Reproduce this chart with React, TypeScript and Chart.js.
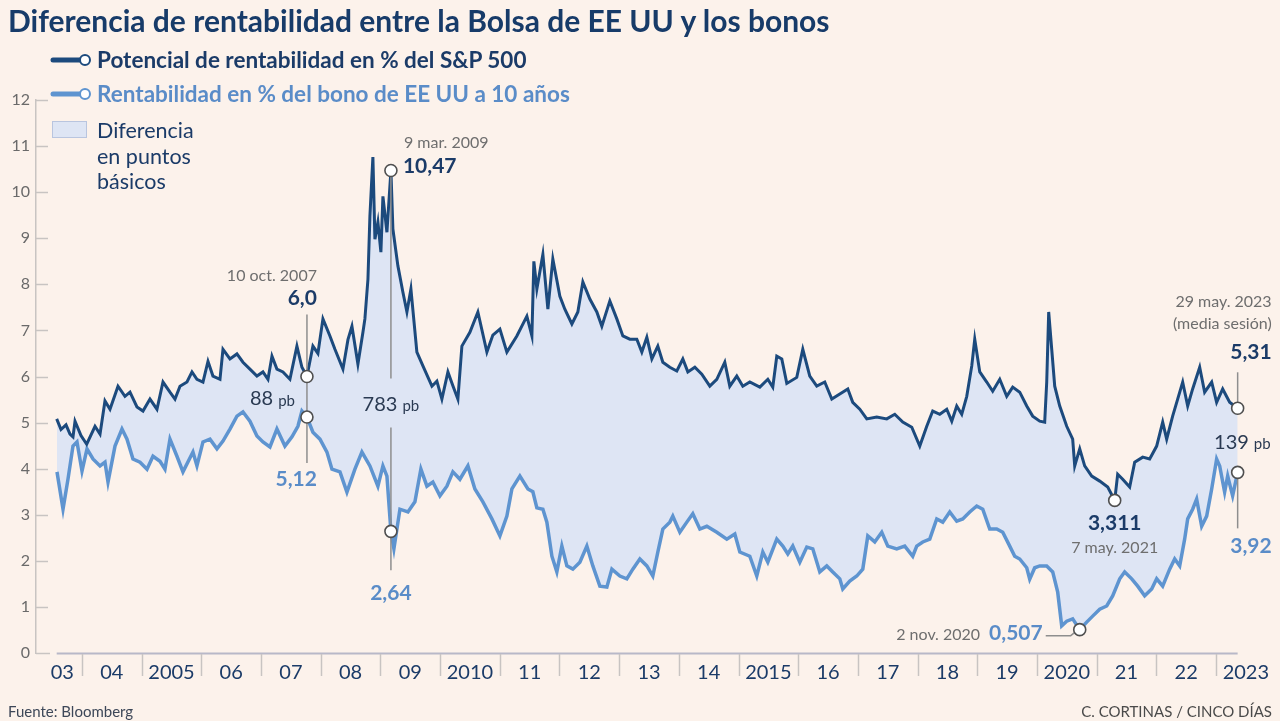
import React, { useEffect, useRef } from "react";
import { Chart, registerables } from "chart.js";
Chart.register(...registerables);

// ---------- DATA ----------
const spDates = [2003.576, 2003.648, 2003.732, 2003.799, 2003.849, 2003.883, 2003.983, 2004.079, 2004.218, 2004.302, 2004.385, 2004.469, 2004.603, 2004.720, 2004.804, 2004.921, 2005.022, 2005.139, 2005.256, 2005.357, 2005.474, 2005.558, 2005.642, 2005.759, 2005.843, 2005.926, 2006.027, 2006.111, 2006.194, 2006.312, 2006.362, 2006.479, 2006.596, 2006.697, 2006.814, 2006.931, 2007.032, 2007.116, 2007.183, 2007.266, 2007.367, 2007.484, 2007.601, 2007.685, 2007.769, 2007.869, 2007.953, 2008.037, 2008.154, 2008.238, 2008.372, 2008.456, 2008.523, 2008.623, 2008.707, 2008.740, 2008.791, 2008.824, 2008.874, 2008.908, 2008.958, 2009.008, 2009.042, 2009.109, 2009.176, 2009.209, 2009.293, 2009.377, 2009.444, 2009.511, 2009.611, 2009.712, 2009.863, 2009.946, 2010.030, 2010.131, 2010.214, 2010.298, 2010.365, 2010.499, 2010.633, 2010.784, 2010.884, 2011.002, 2011.119, 2011.286, 2011.454, 2011.538, 2011.571, 2011.621, 2011.722, 2011.806, 2011.889, 2012.007, 2012.090, 2012.208, 2012.308, 2012.392, 2012.509, 2012.626, 2012.710, 2012.844, 2012.961, 2013.062, 2013.179, 2013.296, 2013.380, 2013.464, 2013.548, 2013.648, 2013.732, 2013.849, 2013.966, 2014.067, 2014.151, 2014.268, 2014.385, 2014.519, 2014.636, 2014.770, 2014.854, 2014.971, 2015.072, 2015.189, 2015.357, 2015.491, 2015.574, 2015.641, 2015.725, 2015.809, 2015.976, 2016.077, 2016.194, 2016.311, 2016.445, 2016.563, 2016.697, 2016.831, 2016.914, 2017.032, 2017.149, 2017.316, 2017.484, 2017.618, 2017.752, 2017.903, 2018.037, 2018.154, 2018.254, 2018.372, 2018.489, 2018.573, 2018.656, 2018.740, 2018.824, 2018.908, 2018.958, 2019.042, 2019.159, 2019.259, 2019.377, 2019.494, 2019.594, 2019.712, 2019.829, 2019.929, 2020.047, 2020.130, 2020.164, 2020.197, 2020.248, 2020.298, 2020.382, 2020.499, 2020.599, 2020.633, 2020.717, 2020.800, 2020.918, 2021.052, 2021.186, 2021.303, 2021.353, 2021.437, 2021.554, 2021.638, 2021.772, 2021.889, 2022.006, 2022.107, 2022.174, 2022.274, 2022.358, 2022.442, 2022.526, 2022.609, 2022.727, 2022.810, 2022.928, 2023.011, 2023.112, 2023.229, 2023.363];
const spValues = [5.08, 4.85, 4.95, 4.75, 4.69, 5.03, 4.72, 4.53, 4.92, 4.75, 5.47, 5.29, 5.79, 5.57, 5.66, 5.34, 5.25, 5.51, 5.29, 5.88, 5.66, 5.51, 5.79, 5.88, 6.10, 5.94, 5.88, 6.33, 6.01, 5.94, 6.59, 6.38, 6.49, 6.31, 6.16, 6.01, 6.10, 5.94, 6.44, 6.16, 6.10, 5.94, 6.66, 6.20, 6.00, 6.66, 6.50, 7.25, 6.88, 6.59, 6.16, 6.80, 7.09, 6.27, 6.96, 7.25, 8.11, 9.48, 10.76, 8.98, 9.35, 8.70, 9.91, 9.13, 10.47, 9.20, 8.40, 7.83, 7.40, 7.90, 6.53, 6.23, 5.79, 5.90, 5.51, 6.10, 5.80, 5.51, 6.66, 6.96, 7.40, 6.53, 6.90, 7.03, 6.53, 6.88, 7.31, 6.88, 8.50, 7.90, 8.65, 7.46, 8.55, 7.74, 7.46, 7.14, 7.40, 8.05, 7.68, 7.40, 7.09, 7.64, 7.25, 6.88, 6.81, 6.81, 6.53, 6.85, 6.38, 6.66, 6.31, 6.20, 6.12, 6.38, 6.10, 6.20, 6.05, 5.79, 5.94, 6.31, 5.79, 6.01, 5.79, 5.88, 5.77, 5.94, 5.77, 6.44, 6.38, 5.85, 5.98, 6.59, 6.01, 5.79, 5.88, 5.51, 5.62, 5.73, 5.44, 5.29, 5.08, 5.12, 5.08, 5.18, 5.01, 4.90, 4.49, 4.92, 5.25, 5.18, 5.29, 5.03, 5.36, 5.18, 5.57, 6.23, 6.81, 6.10, 5.88, 5.68, 5.94, 5.57, 5.77, 5.66, 5.36, 5.14, 5.03, 5.01, 5.88, 7.40, 6.59, 5.79, 5.36, 4.92, 4.64, 4.06, 4.43, 4.06, 3.84, 3.73, 3.60, 3.311, 3.88, 3.77, 3.60, 4.14, 4.25, 4.21, 4.49, 5.01, 4.64, 5.14, 5.51, 5.88, 5.36, 5.73, 6.20, 5.66, 5.88, 5.44, 5.73, 5.44, 5.31];

const bondDates = [2003.581, 2003.682, 2003.765, 2003.849, 2003.916, 2004.000, 2004.084, 2004.184, 2004.302, 2004.385, 2004.436, 2004.553, 2004.670, 2004.754, 2004.854, 2004.972, 2005.089, 2005.189, 2005.307, 2005.390, 2005.474, 2005.591, 2005.692, 2005.859, 2005.926, 2006.027, 2006.144, 2006.261, 2006.362, 2006.479, 2006.596, 2006.697, 2006.814, 2006.931, 2007.032, 2007.149, 2007.266, 2007.400, 2007.518, 2007.618, 2007.685, 2007.769, 2007.869, 2007.987, 2008.104, 2008.188, 2008.322, 2008.439, 2008.573, 2008.690, 2008.824, 2008.958, 2009.042, 2009.109, 2009.176, 2009.226, 2009.327, 2009.461, 2009.578, 2009.678, 2009.779, 2009.879, 2009.997, 2010.114, 2010.214, 2010.332, 2010.466, 2010.583, 2010.717, 2010.868, 2011.002, 2011.119, 2011.203, 2011.337, 2011.471, 2011.554, 2011.621, 2011.722, 2011.789, 2011.873, 2011.956, 2012.040, 2012.124, 2012.224, 2012.342, 2012.459, 2012.559, 2012.677, 2012.794, 2012.878, 2013.012, 2013.129, 2013.229, 2013.347, 2013.464, 2013.564, 2013.648, 2013.732, 2013.849, 2013.899, 2014.017, 2014.134, 2014.234, 2014.352, 2014.469, 2014.636, 2014.804, 2014.938, 2015.022, 2015.189, 2015.306, 2015.407, 2015.491, 2015.641, 2015.742, 2015.826, 2015.909, 2016.027, 2016.144, 2016.244, 2016.362, 2016.479, 2016.579, 2016.697, 2016.747, 2016.864, 2016.981, 2017.082, 2017.166, 2017.283, 2017.400, 2017.501, 2017.651, 2017.785, 2017.919, 2017.986, 2018.087, 2018.204, 2018.321, 2018.422, 2018.539, 2018.656, 2018.757, 2018.874, 2018.991, 2019.092, 2019.209, 2019.326, 2019.427, 2019.544, 2019.628, 2019.712, 2019.829, 2019.879, 2019.963, 2020.047, 2020.164, 2020.264, 2020.348, 2020.415, 2020.499, 2020.599, 2020.717, 2020.834, 2020.934, 2021.052, 2021.169, 2021.269, 2021.387, 2021.470, 2021.588, 2021.688, 2021.805, 2021.923, 2022.006, 2022.107, 2022.224, 2022.308, 2022.392, 2022.475, 2022.526, 2022.609, 2022.676, 2022.760, 2022.844, 2022.928, 2023.011, 2023.062, 2023.145, 2023.196, 2023.279, 2023.363];
const bondValues = [3.93, 3.12, 3.77, 4.49, 4.58, 3.95, 4.43, 4.21, 4.06, 4.14, 3.71, 4.49, 4.86, 4.64, 4.21, 4.14, 3.99, 4.27, 4.16, 3.99, 4.64, 4.27, 3.93, 4.36, 4.06, 4.58, 4.64, 4.43, 4.60, 4.86, 5.14, 5.23, 5.03, 4.71, 4.58, 4.47, 4.86, 4.49, 4.69, 4.92, 5.25, 5.12, 4.79, 4.64, 4.36, 3.99, 3.93, 3.49, 3.99, 4.36, 4.06, 3.62, 4.06, 3.84, 2.64, 2.26, 3.12, 3.06, 3.28, 3.99, 3.62, 3.71, 3.41, 3.62, 3.93, 3.77, 4.06, 3.56, 3.28, 2.91, 2.54, 2.97, 3.56, 3.84, 3.56, 3.50, 3.15, 3.12, 2.84, 2.10, 1.76, 2.32, 1.89, 1.82, 1.97, 2.32, 1.89, 1.45, 1.43, 1.82, 1.67, 1.61, 1.82, 2.04, 1.89, 1.67, 2.19, 2.69, 2.84, 2.97, 2.62, 2.84, 3.02, 2.69, 2.75, 2.62, 2.47, 2.58, 2.19, 2.10, 1.67, 2.19, 1.97, 2.47, 2.32, 2.15, 2.32, 1.97, 2.30, 2.26, 1.76, 1.89, 1.76, 1.61, 1.39, 1.56, 1.67, 1.82, 2.54, 2.41, 2.62, 2.32, 2.26, 2.32, 2.10, 2.32, 2.41, 2.47, 2.91, 2.84, 3.06, 2.86, 2.91, 3.06, 3.19, 3.12, 2.69, 2.69, 2.62, 2.32, 2.10, 2.04, 1.85, 1.60, 1.85, 1.89, 1.89, 1.76, 1.32, 0.59, 0.69, 0.74, 0.507, 0.67, 0.80, 0.95, 1.02, 1.24, 1.61, 1.76, 1.61, 1.45, 1.24, 1.39, 1.61, 1.45, 1.82, 2.04, 1.89, 2.47, 2.91, 3.12, 3.34, 2.75, 2.97, 3.56, 4.21, 4.06, 3.49, 3.84, 3.41, 3.92];

const yTickValues = [0, 1, 2, 3, 4, 5, 6, 7, 8, 9, 10, 11, 12];
const yearBoundaries = [2004, 2005, 2006, 2007, 2008, 2009, 2010, 2011, 2012, 2013, 2014, 2015, 2016, 2017, 2018, 2019, 2020, 2021, 2022, 2023];
const xLabelValues = [2003.67, 2004.5, 2005.5, 2006.5, 2007.5, 2008.5, 2009.5, 2010.5, 2011.5, 2012.5, 2013.5, 2014.5, 2015.5, 2016.5, 2017.5, 2018.5, 2019.5, 2020.5, 2021.5, 2022.5, 2023.5];
const xLabels = ["03", "04", "2005", "06", "07", "08", "09", "2010", "11", "12", "13", "14", "2015", "16", "17", "18", "19", "2020", "21", "22", "2023"];

// Callouts (date, S&P value, bond value)
const callout2007 = { date: 2007.769, sp: 6.0, bond: 5.12, when: "10 oct. 2007", spText: "6,0", bondText: "5,12", diff: "88" };
const callout2009 = { date: 2009.176, sp: 10.47, bond: 2.64, when: "9 mar. 2009", spText: "10,47", bondText: "2,64", diff: "783" };
const callout2021 = { date: 2021.303, sp: 3.311, when: "7 may. 2021", spText: "3,311" };
const callout2020 = { date: 2020.717, bond: 0.507, when: "2 nov. 2020", bondText: "0,507" };
const callout2023 = { date: 2023.363, sp: 5.31, bond: 3.92, when: "29 may. 2023", note: "(media sesión)", spText: "5,31", bondText: "3,92", diff: "139" };

// ---------- STYLE ----------
const BG = "#fcf2eb";
const NAVY = "#1b3b68";
const DARK_LINE = "#1c4a7d";
const LIGHT_LINE = "#5e94d0";
const LIGHT_TEXT = "#5a8cc8";
const FILL = "#dee5f4";
const GRAY_TEXT = "#6e6e6e";
const LEADER = "#8e8e8e";
const AXIS = "#c8c4c2";
const FONT = "Lato, 'Open Sans', sans-serif";

const X_MIN = 2003.2293;
const X_MAX = 2023.905;

function text(ctx: CanvasRenderingContext2D, s: string, x: number, y: number, font: string, color: string, align: CanvasTextAlign) {
  ctx.font = font;
  ctx.fillStyle = color;
  ctx.textAlign = align;
  ctx.textBaseline = "middle";
  ctx.fillText(s, x, y);
}

function pbText(ctx: CanvasRenderingContext2D, num: string, x: number, y: number, align: "left" | "right" | "center") {
  const f1 = `400 20px ${FONT}`;
  const f2 = `400 15px ${FONT}`;
  ctx.font = f1;
  const w1 = ctx.measureText(num).width;
  ctx.font = f2;
  const w2 = ctx.measureText("pb").width;
  const gap = 5;
  const total = w1 + gap + w2;
  let start = x;
  if (align === "right") start = x - total;
  if (align === "center") start = x - total / 2;
  text(ctx, num, start, y, f1, "#2a3a52", "left");
  text(ctx, "pb", start + w1 + gap, y + 2, f2, "#2a3a52", "left");
}

function vline(ctx: CanvasRenderingContext2D, x: number, y1: number, y2: number) {
  ctx.beginPath();
  ctx.moveTo(x, y1);
  ctx.lineTo(x, y2);
  ctx.stroke();
}

function dot(ctx: CanvasRenderingContext2D, x: number, y: number) {
  ctx.beginPath();
  ctx.arc(x, y, 6, 0, Math.PI * 2);
  ctx.fillStyle = "#ffffff";
  ctx.fill();
  ctx.lineWidth = 1.6;
  ctx.strokeStyle = "#4f4f4f";
  ctx.stroke();
}

const overlayPlugin = {
  id: "overlay",
  afterDraw(chart: any) {
    const ctx: CanvasRenderingContext2D = chart.ctx;
    const xs = chart.scales.x;
    const ys = chart.scales.y;
    const px = (v: number) => xs.getPixelForValue(v);
    const py = (v: number) => ys.getPixelForValue(v);
    const left = chart.chartArea.left;
    const bottom = chart.chartArea.bottom;
    ctx.save();

    // y ticks pointing inward
    ctx.strokeStyle = AXIS;
    ctx.lineWidth = 1.5;
    yTickValues.forEach((v) => {
      const y = Math.round(py(v)) + 0.5;
      ctx.beginPath();
      ctx.moveTo(left, y);
      ctx.lineTo(left + (v === 0 ? 14 : 12), y);
      ctx.stroke();
    });

    // x axis baseline under the data range
    ctx.strokeStyle = "#b8b8c8";
    ctx.lineWidth = 2;
    ctx.beginPath();
    ctx.moveTo(px(spDates[0]), bottom + 0.5);
    ctx.lineTo(px(spDates[spDates.length - 1]), bottom + 0.5);
    ctx.stroke();

    // year separators
    ctx.strokeStyle = AXIS;
    ctx.lineWidth = 1.5;
    yearBoundaries.forEach((yr) => {
      const x = Math.round(px(yr)) + 0.5;
      vline(ctx, x, bottom + 1, bottom + 23);
    });

    // --- 10 oct 2007 ---
    {
      const c = callout2007;
      const X = px(c.date), Y1 = py(c.sp), Y2 = py(c.bond);
      ctx.strokeStyle = LEADER; ctx.lineWidth = 1.5;
      vline(ctx, X, Y1 - 62, Y2 + 46);
      dot(ctx, X, Y1);
      dot(ctx, X, Y2);
      text(ctx, c.when, X + 10, Y1 - 101, `400 16px ${FONT}`, GRAY_TEXT, "right");
      text(ctx, c.spText, X + 10, Y1 - 78, `700 21px ${FONT}`, NAVY, "right");
      pbText(ctx, c.diff, X - 12, (Y1 + Y2) / 2 + 2, "right");
      text(ctx, c.bondText, X + 10, Y2 + 62, `700 21px ${FONT}`, LIGHT_TEXT, "right");
    }

    // --- 9 mar 2009 ---
    {
      const c = callout2009;
      const X = px(c.date), Y1 = py(c.sp), Y2 = py(c.bond);
      ctx.strokeStyle = LEADER; ctx.lineWidth = 1.5;
      vline(ctx, X, Y1, Y1 + 208);
      vline(ctx, X, Y1 + 257, Y2 + 39);
      dot(ctx, X, Y1);
      dot(ctx, X, Y2);
      text(ctx, c.when, X + 13, Y1 - 28, `400 16px ${FONT}`, GRAY_TEXT, "left");
      text(ctx, c.spText, X + 12, Y1 - 4, `700 21px ${FONT}`, NAVY, "left");
      pbText(ctx, c.diff, X, Y1 + 234, "center");
      text(ctx, c.bondText, X, Y2 + 62, `700 21px ${FONT}`, LIGHT_TEXT, "center");
    }

    // --- 2 nov 2020 ---
    {
      const c = callout2020;
      const X = px(c.date), Y = py(c.bond);
      ctx.strokeStyle = LEADER; ctx.lineWidth = 1.5;
      ctx.beginPath();
      ctx.moveTo(X - 34, Y + 6);
      ctx.lineTo(X - 9, Y + 6);
      ctx.lineTo(X - 4, Y + 2);
      ctx.stroke();
      dot(ctx, X, Y);
      const vx = X - 37;
      text(ctx, c.bondText, vx, Y + 4, `700 21px ${FONT}`, LIGHT_TEXT, "right");
      ctx.font = `700 21px ${FONT}`;
      const w = ctx.measureText(c.bondText).width;
      text(ctx, c.when, vx - w - 9, Y + 5, `400 16px ${FONT}`, GRAY_TEXT, "right");
    }

    // --- 7 may 2021 ---
    {
      const c = callout2021;
      const X = px(c.date), Y = py(c.sp);
      dot(ctx, X, Y);
      text(ctx, c.spText, X, Y + 23, `700 21px ${FONT}`, NAVY, "center");
      text(ctx, c.when, X, Y + 47, `400 16px ${FONT}`, GRAY_TEXT, "center");
    }

    // --- 29 may 2023 ---
    {
      const c = callout2023;
      const X = px(c.date), Y1 = py(c.sp), Y2 = py(c.bond);
      ctx.strokeStyle = LEADER; ctx.lineWidth = 1.5;
      vline(ctx, X, Y1 - 36, Y1);
      vline(ctx, X, Y2, Y2 + 56);
      dot(ctx, X, Y1);
      dot(ctx, X, Y2);
      const R = X + 34;
      text(ctx, c.when, R, Y1 - 106, `400 16px ${FONT}`, GRAY_TEXT, "right");
      text(ctx, c.note, R, Y1 - 84, `400 16px ${FONT}`, GRAY_TEXT, "right");
      text(ctx, c.spText, R, Y1 - 56, `700 21px ${FONT}`, NAVY, "right");
      pbText(ctx, c.diff, R - 1, (Y1 + Y2) / 2 + 2, "right");
      text(ctx, c.bondText, R, Y2 + 74, `700 21px ${FONT}`, LIGHT_TEXT, "right");
    }

    ctx.restore();
  },
};

export default function App() {
  const canvasRef = useRef<HTMLCanvasElement | null>(null);

  useEffect(() => {
    const canvas = canvasRef.current;
    if (!canvas) return;
    const chart = new Chart(canvas, {
      type: "line",
      data: {
        datasets: [
          {
            label: "Potencial de rentabilidad en % del S&P 500",
            data: spDates.map((d, i) => ({ x: d, y: spValues[i] })),
            borderColor: DARK_LINE,
            borderWidth: 3,
            pointRadius: 0,
            fill: false,
            tension: 0,
            order: 0,
          },
          {
            label: "Rentabilidad en % del bono de EE UU a 10 años",
            data: bondDates.map((d, i) => ({ x: d, y: bondValues[i] })),
            borderColor: LIGHT_LINE,
            backgroundColor: FILL,
            borderWidth: 3.5,
            pointRadius: 0,
            fill: { target: 0 },
            tension: 0,
            order: 1,
          },
        ],
      },
      options: {
        animation: false,
        responsive: false,
        maintainAspectRatio: false,
        events: [],
        layout: { padding: { top: 100, right: 10, left: 0, bottom: 0 } },
        plugins: {
          legend: { display: false },
          tooltip: { enabled: false },
          title: { display: false },
          filler: { drawTime: "beforeDatasetsDraw" },
        },
        scales: {
          x: {
            type: "linear",
            min: X_MIN,
            max: X_MAX,
            afterFit: (s: any) => {
              s.height = 68;
            },
            afterBuildTicks: (s: any) => {
              s.ticks = xLabelValues.map((v) => ({ value: v }));
            },
            ticks: {
              autoSkip: false,
              maxRotation: 0,
              minRotation: 0,
              padding: 8,
              color: NAVY,
              font: { family: FONT, size: 20 },
              callback: (_v: any, i: number) => xLabels[i],
            },
            grid: { display: false, drawTicks: false },
            border: { display: false },
          },
          y: {
            min: 0,
            max: 12,
            afterFit: (s: any) => {
              s.width = 36;
            },
            afterBuildTicks: (s: any) => {
              s.ticks = yTickValues.map((v) => ({ value: v }));
            },
            ticks: {
              padding: 6,
              color: "#6a6a6a",
              font: { family: FONT, size: 16 },
              callback: (v: any) => String(v),
            },
            grid: { display: false, drawTicks: false, drawOnChartArea: false },
            border: { display: true, color: AXIS, width: 1.5 },
          },
        },
      },
      plugins: [overlayPlugin],
    } as any);
    return () => chart.destroy();
  }, []);

  const legendText: React.CSSProperties = {
    position: "absolute",
    left: 97,
    whiteSpace: "nowrap",
    fontSize: 22.5,
    fontWeight: 700,
    lineHeight: "26px",
  };

  return (
    <div
      style={{
        position: "absolute",
        left: 0,
        top: 0,
        width: 1280,
        height: 721,
        background: BG,
        overflow: "hidden",
        fontFamily: FONT,
      }}
    >
      <canvas
        ref={canvasRef}
        width={1280}
        height={721}
        style={{ position: "absolute", left: 0, top: 0, width: 1280, height: 721 }}
      />
      <div
        style={{
          position: "absolute",
          left: 8,
          top: 2,
          fontSize: 30,
          fontWeight: 700,
          lineHeight: "36px",
          color: "#173b69",
          whiteSpace: "nowrap",
        }}
      >
        Diferencia de rentabilidad entre la Bolsa de EE UU y los bonos
      </div>

      <svg style={{ position: "absolute", left: 50, top: 52 }} width="44" height="16">
        <line x1="3" y1="8" x2="30" y2="8" stroke={DARK_LINE} strokeWidth="5" strokeLinecap="round" />
        <circle cx="35" cy="8" r="5" fill="#fff" stroke={DARK_LINE} strokeWidth="2" />
      </svg>
      <div style={{ ...legendText, top: 47, color: NAVY }}>Potencial de rentabilidad en % del S&amp;P 500</div>

      <svg style={{ position: "absolute", left: 50, top: 86 }} width="44" height="16">
        <line x1="3" y1="8" x2="30" y2="8" stroke={LIGHT_LINE} strokeWidth="5" strokeLinecap="round" />
        <circle cx="35" cy="8" r="5" fill="#fff" stroke={LIGHT_LINE} strokeWidth="2" />
      </svg>
      <div style={{ ...legendText, top: 81, color: LIGHT_TEXT }}>Rentabilidad en % del bono de EE UU a 10 años</div>

      <div
        style={{
          position: "absolute",
          left: 52,
          top: 121,
          width: 35,
          height: 17,
          background: FILL,
          border: "1px solid #b9c5df",
          boxSizing: "border-box",
        }}
      />
      <div
        style={{
          position: "absolute",
          left: 97,
          top: 118,
          fontSize: 21.5,
          lineHeight: "25.5px",
          color: NAVY,
        }}
      >
        Diferencia
        <br />
        en puntos
        <br />
        básicos
      </div>

      <div
        style={{
          position: "absolute",
          left: 8,
          top: 701,
          fontSize: 15,
          lineHeight: "20px",
          color: "#3d4758",
          whiteSpace: "nowrap",
        }}
      >
        Fuente: Bloomberg
      </div>
      <div
        style={{
          position: "absolute",
          right: 8,
          top: 701,
          fontSize: 15,
          lineHeight: "20px",
          color: "#4a4a4a",
          whiteSpace: "nowrap",
        }}
      >
        C. CORTINAS / CINCO DÍAS
      </div>
    </div>
  );
}
